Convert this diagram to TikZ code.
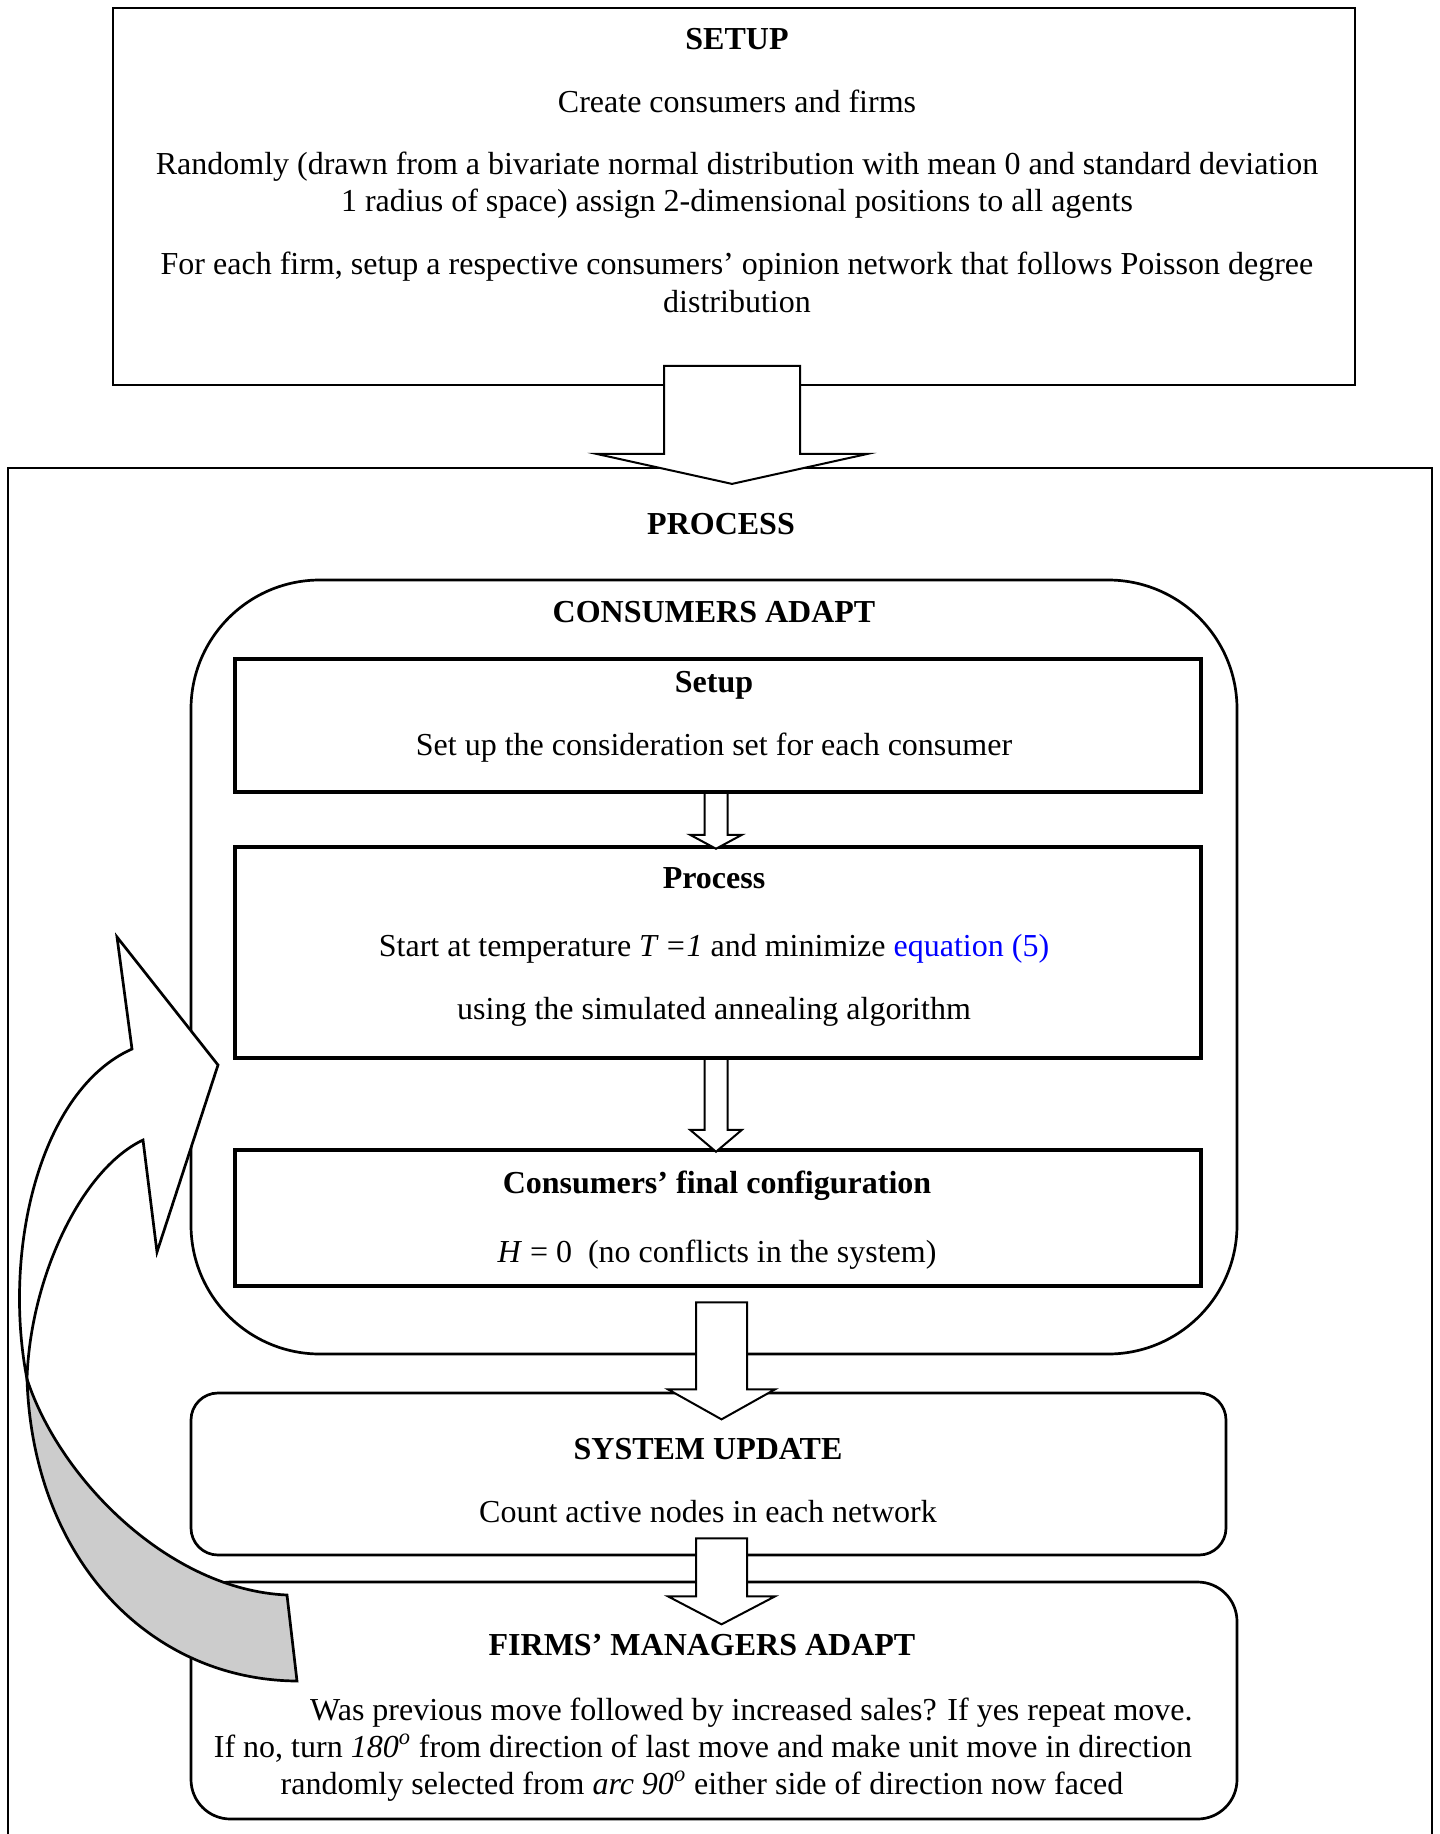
\documentclass[tikz,border=0pt]{standalone}
\usepackage{fontspec}
\setmainfont{Liberation Serif}
\usetikzlibrary{calc}
\definecolor{linkblue}{RGB}{0,0,255}
\definecolor{ribbon}{RGB}{204,204,204}
\newcommand{\downblockarrow}[6]{%
  \draw[blockarrow] ($#1+(-#2,#3)$) -- ($#1+(#2,#3)$) -- ($#1+(#2,#4)$) -- ($#1+(#5,#4)$)
    -- ($#1+(0,#6)$) -- ($#1+(-#5,#4)$) -- ($#1+(-#2,#4)$) -- cycle;}
\begin{document}
\begin{tikzpicture}[x=0.5pt,y=-0.5pt,
  txt/.style={anchor=base, inner sep=0pt, font=\fontsize{16}{18.5}\selectfont},
  btxt/.style={txt, font=\fontsize{16}{18.5}\selectfont\bfseries},
  plainbox/.style={draw, line width=0.9pt, inner sep=0pt},
  thickbox/.style={draw, line width=1.75pt, inner sep=0pt},
  roundbox/.style={draw, line width=1.35pt, inner sep=0pt},
  blockarrow/.style={draw, fill=white, line width=1pt, line join=miter},
  ribbonfront/.style={draw, fill=white, line width=1.35pt, line join=miter},
  ribbonback/.style={draw, fill=ribbon, line width=1.35pt, line join=miter}
]
\useasboundingbox (0,0) rectangle (1439,1834);

% boxes
\node[plainbox, minimum width=621pt, minimum height=188.5pt] (setup) at (734,196.5) {};
\node[plainbox, minimum width=712pt, minimum height=716pt] (process) at (720,1184) {};
\node[roundbox, rounded corners=64.5pt, minimum width=523pt, minimum height=387pt] (consumers) at (714,967) {};
\node[thickbox, minimum width=483pt, minimum height=66.5pt] (isetup) at (718,725.5) {};
\node[thickbox, minimum width=483pt, minimum height=105.5pt] (iprocess) at (718,952.5) {};
\node[thickbox, minimum width=483pt, minimum height=68pt] (ifinal) at (718,1218) {};
\node[roundbox, rounded corners=13.5pt, minimum width=517.5pt, minimum height=81pt] (sysupd) at (708.5,1474) {};
\node[roundbox, rounded corners=19.75pt, minimum width=523pt, minimum height=118.5pt] (firms) at (714,1700.5) {};

% block arrows (connectors)
\coordinate (a1) at ($(setup.south)+(-2,0)$);
\downblockarrow{(a1)}{68}{-20}{68}{135.5}{98}
\coordinate (a2) at ($(isetup.south)+(-2,0)$);
\downblockarrow{(a2)}{11.5}{-1}{41}{26}{55}
\coordinate (a3) at ($(iprocess.south)+(-2,0)$);
\downblockarrow{(a3)}{11.5}{-1}{70}{26}{92}
\coordinate (a4) at ($(consumers.south)+(7.5,0)$);
\downblockarrow{(a4)}{25.5}{-53}{34}{53.5}{64}
\coordinate (a5) at ($(sysupd.south)+(13,0)$);
\downblockarrow{(a5)}{25.5}{-18}{40}{53.5}{68}

% texts
\node[btxt] (t-setup) at (737,50) {SETUP};
\node[txt] (t-create) at (737,113) {Create consumers and firms};
\node[txt] (t-rand1) at (737,175) {Randomly (drawn from a bivariate normal distribution with mean 0 and standard deviation};
\node[txt] (t-rand2) at (737,212) {1 radius of space) assign 2-dimensional positions to all agents};
\node[txt] (t-net1) at (737,275) {For each firm, setup a respective consumers’ opinion network that follows Poisson degree};
\node[txt] (t-net2) at (737,313) {distribution};
\node[btxt] (t-process) at (721,534) {PROCESS};
\node[btxt] (t-cadapt) at (714,622) {CONSUMERS ADAPT};
\node[btxt] (t-isetup) at (714,692) {Setup};
\node[txt] (t-consid) at (714,755) {Set up the consideration set for each consumer};
\node[btxt] (t-iproc) at (714,888) {Process};
\node[txt] (t-temp) at (714,956) {Start at temperature \textit{T =1} and minimize \textcolor{linkblue}{equation (5)}};
\node[txt] (t-anneal) at (714,1019) {using the simulated annealing algorithm};
\node[btxt] (t-final) at (717,1193) {Consumers’ final configuration};
\node[txt] (t-H) at (717,1262) {\textit{H} = 0\ \ (no conflicts in the system)};
\node[btxt] (t-sys) at (708,1459) {SYSTEM UPDATE};
\node[txt] (t-count) at (708,1522) {Count active nodes in each network};
\node[btxt] (t-firms) at (702,1655) {FIRMS’ MANAGERS ADAPT};
\node[txt, anchor=base east] (t-was) at (1193,1720) {Was previous move followed by increased sales? If yes repeat move.};
\node[txt] (t-ifno) at (703,1757) {If no, turn \textit{180\textsuperscript{o}} from direction of last move and make unit move in direction};
\node[txt] (t-rnd) at (702,1794) {randomly selected from \textit{arc 90\textsuperscript{o}} either side of direction now faced};

% curved feedback arrow
\coordinate (touch) at (27,1379);
\coordinate (tailtop) at (287,1595);
\coordinate (tailbot) at (297,1681);
\coordinate (outj) at (132,1049);
\coordinate (outbarb) at (117,937);
\coordinate (tip) at (218,1065);
\coordinate (inbarb) at (157,1252);
\coordinate (inj) at (143,1140);
\path[ribbonback] (touch) .. controls (33,1560) and (150,1680) .. (tailbot) -- (tailtop)
  .. controls (170,1590) and (60,1480) .. (touch) -- cycle;
\path[ribbonfront] (touch) .. controls (2,1250) and (40,1090) .. (outj) -- (outbarb) -- (tip)
  -- (inbarb) -- (inj) .. controls (80,1170) and (30,1280) .. (touch) -- cycle;
\end{tikzpicture}
\end{document}
